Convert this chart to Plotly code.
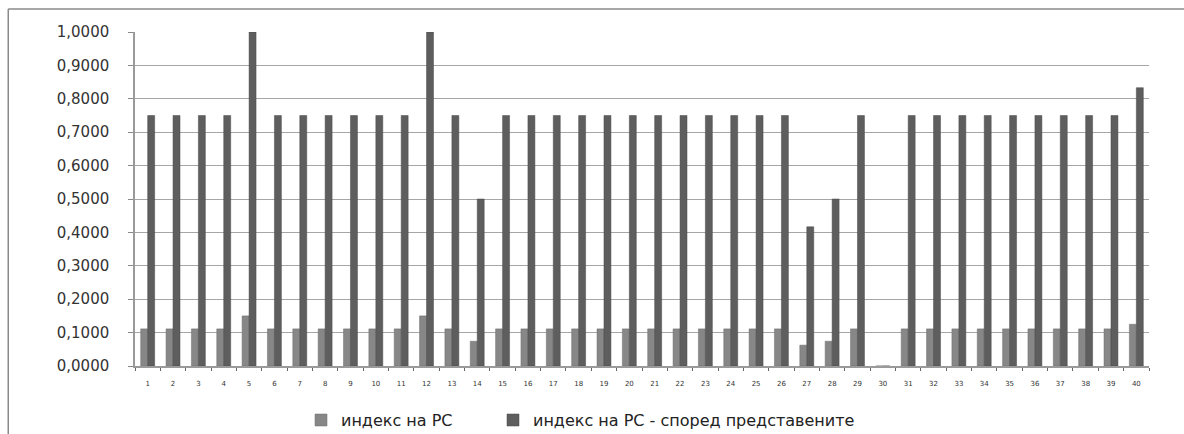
import plotly.graph_objects as go

categories = [str(i) for i in range(1, 41)]
series1_name = "индекс на РС"
series2_name = "индекс на РС - според представените"
series1 = [0.1111, 0.1111, 0.1111, 0.1111, 0.1500, 0.1111, 0.1111, 0.1111, 0.1111, 0.1111,
           0.1111, 0.1500, 0.1111, 0.0741, 0.1111, 0.1111, 0.1111, 0.1111, 0.1111, 0.1111,
           0.1111, 0.1111, 0.1111, 0.1111, 0.1111, 0.1111, 0.0625, 0.0741, 0.1111, 0.0000,
           0.1111, 0.1111, 0.1111, 0.1111, 0.1111, 0.1111, 0.1111, 0.1111, 0.1111, 0.1250]
series2 = [0.75, 0.75, 0.75, 0.75, 1.00, 0.75, 0.75, 0.75, 0.75, 0.75,
           0.75, 1.00, 0.75, 0.50, 0.75, 0.75, 0.75, 0.75, 0.75, 0.75,
           0.75, 0.75, 0.75, 0.75, 0.75, 0.75, 0.4167, 0.50, 0.75, 0.0000,
           0.75, 0.75, 0.75, 0.75, 0.75, 0.75, 0.75, 0.75, 0.75, 0.8333]
y_ticks = [i / 10 for i in range(11)]

fig = go.Figure()
fig.add_trace(go.Bar(x=categories, y=series1, name=series1_name, legend="legend",
                     marker=dict(color="#878787", line=dict(color="#6e6e6e", width=0.5))))
fig.add_trace(go.Bar(x=categories, y=series2, name=series2_name, legend="legend2",
                     marker=dict(color="#5e5e5e", line=dict(color="#4a4a4a", width=0.5))))

legend_font = dict(size=16, family="DejaVu Sans", color="#222222")
fig.update_layout(
    width=1184, height=434,
    margin=dict(l=135, r=35, t=32, b=68, autoexpand=False),
    paper_bgcolor="white", plot_bgcolor="white",
    barmode="group", bargap=0.45, bargroupgap=0,
    separators=", ",
    font=dict(family="DejaVu Sans", color="#222222"),
    showlegend=True,
    legend=dict(orientation="h", xref="container", x=301 / 1184, xanchor="left",
                yref="paper", y=-0.162, yanchor="middle", font=legend_font,
                itemwidth=30),
    legend2=dict(orientation="h", xref="container", x=493 / 1184, xanchor="left",
                 yref="paper", y=-0.162, yanchor="middle", font=legend_font,
                 itemwidth=30),
    shapes=[
        dict(type="line", xref="paper", yref="paper", x0=-0.125, x1=1.05, y0=1.069, y1=1.069,
             line=dict(color="#8a8a8a", width=1.5)),
        dict(type="line", xref="paper", yref="paper", x0=-0.125, x1=-0.125, y0=1.069, y1=-0.3,
             line=dict(color="#8a8a8a", width=1.5)),
    ],
)
fig.update_xaxes(type="category", showgrid=False, showline=True, linecolor="#9a9a9a",
                 linewidth=1.5, ticks="outside", tickson="boundaries", ticklen=3,
                 tickcolor="#666666", ticklabelstandoff=10,
                 tickfont=dict(size=7, color="#333333"))
fig.update_yaxes(range=[0, 1.0], tickvals=y_ticks, tickformat=".4f", showgrid=True,
                 gridcolor="#a6a6a6", gridwidth=1.2, showline=True, linecolor="#9a9a9a",
                 linewidth=1.5, ticks="outside", ticklen=5, tickcolor="#888888",
                 ticklabelstandoff=16,
                 tickfont=dict(size=15, color="#333333"), zeroline=False)

fig.write_html("out.html", config={"displayModeBar": False},
               post_script="document.body.style.margin='0';document.body.style.overflow='hidden';")
